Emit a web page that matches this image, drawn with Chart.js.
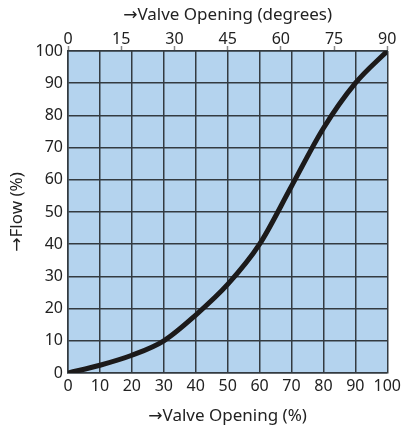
<!DOCTYPE html>
<html>
<head>
<meta charset="utf-8">
<script src="https://cdn.jsdelivr.net/npm/chart.js@4"></script>
<style>
  html, body { margin: 0; padding: 0; background: #fff; }
  #wrap { width: 405px; height: 435px; }
</style>
</head>
<body>
<div id="wrap"><canvas id="chart" width="405" height="435"></canvas></div>
<script>
// valve opening (%) and flow (%)
const opening = [0, 10, 20, 30, 40, 50, 60, 70, 80, 90, 100];
const flow = [0, 2.4, 5.5, 10, 18, 27.5, 40, 58, 76, 90, 100];
const degreeTicks = [0, 15, 30, 45, 60, 75, 90];

const fontFam = "'Noto Sans', 'DejaVu Sans', sans-serif";
const gridColor = '#333a40';

// draw the light blue plot background
const bgPlugin = {
    id: 'plotBg',
    beforeDraw(chart) {
        const a = chart.chartArea;
        const ctx = chart.ctx;
        ctx.save();
        ctx.fillStyle = '#b4d3ee';
        ctx.fillRect(a.left, a.top, a.right - a.left, a.bottom - a.top);
        ctx.restore();
    }
};

const ctx = document.getElementById('chart').getContext('2d');
new Chart(ctx, {
    type: 'line',
    data: {
        datasets: [{
            data: opening.map((x, i) => ({x: x, y: flow[i]})),
            borderColor: '#1c1a1a',
            borderWidth: 5,
            pointRadius: 0,
            cubicInterpolationMode: 'monotone',
            fill: false,
            xAxisID: 'x',
            yAxisID: 'y'
        }]
    },
    options: {
        responsive: false,
        animation: false,
        layout: { padding: { left: 0, right: 15, top: 3, bottom: 9 } },
        plugins: { legend: { display: false }, tooltip: { enabled: false } },
        scales: {
            x: {
                type: 'linear',
                position: 'bottom',
                min: 0, max: 100,
                ticks: { stepSize: 10, color: '#222', font: { family: fontFam, size: 16 }, padding: 4, maxRotation: 0, autoSkip: false },
                grid: { color: gridColor, lineWidth: 1.5, drawTicks: false },
                border: { color: gridColor, width: 1.5 },
                title: { display: true, text: '→Valve Opening (%)', color: '#222', font: { family: fontFam, size: 17 }, padding: { top: 0, bottom: 0 } },
                afterFit(s) { s.height = 53; }
            },
            x2: {
                type: 'linear',
                position: 'top',
                min: 0, max: 90,
                afterBuildTicks(s) { s.ticks = degreeTicks.map(v => ({value: v})); },
                ticks: { color: '#222', font: { family: fontFam, size: 16 }, padding: -3, maxRotation: 0, autoSkip: false },
                grid: { drawOnChartArea: false, drawTicks: true, tickLength: 5, tickColor: '#888', tickWidth: 1.5 },
                border: { color: gridColor, width: 1.5 },
                title: { display: true, text: '→Valve Opening (degrees)', color: '#222', font: { family: fontFam, size: 17 }, padding: { top: 2, bottom: 0 } },
                afterFit(s) { s.height = 48; }
            },
            y: {
                type: 'linear',
                min: 0, max: 100,
                ticks: { stepSize: 10, color: '#222', font: { family: fontFam, size: 16 }, padding: 5 },
                grid: { color: gridColor, lineWidth: 1.5, drawTicks: false },
                border: { color: gridColor, width: 1.5 },
                title: { display: true, text: '→Flow (%)', color: '#222', font: { family: fontFam, size: 17 }, padding: { top: 7, bottom: 0 } },
                afterFit(s) { s.width = 68; }
            }
        }
    },
    plugins: [bgPlugin]
});
</script>
</body>
</html>
